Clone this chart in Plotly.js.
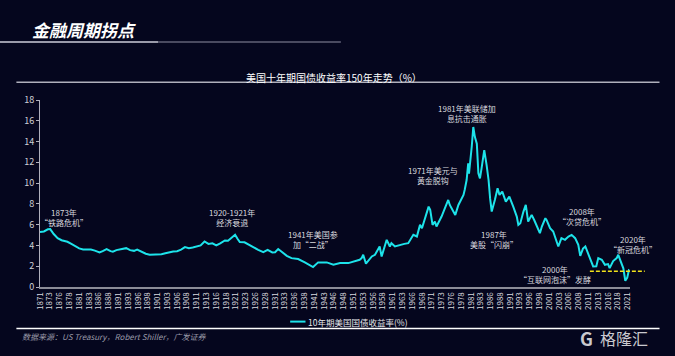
<!DOCTYPE html>
<html>
<head>
<meta charset="utf-8">
<script src="https://cdn.plot.ly/plotly-3.0.1.min.js"></script>
<style>
html,body{margin:0;padding:0;background:#05061e;}
#chart{width:675px;height:356px;}
</style>
</head>
<body>
<div id="chart"></div>
<script>
// ---- data ----
const years = [1871.0,1872.0,1873.0,1873.6,1874.5,1875.5,1876.5,1878.0,1879.0,1880.0,1881.0,1882.0,1883.0,1884.0,1885.0,1886.2,1887.0,1888.0,1889.0,1889.6,1890.5,1891.5,1893.0,1894.0,1895.0,1895.8,1897.0,1898.0,1899.0,1900.0,1901.0,1902.0,1903.0,1904.0,1905.0,1906.0,1907.0,1908.0,1909.0,1910.0,1911.3,1912.0,1913.0,1914.0,1915.0,1916.0,1917.0,1918.2,1919.0,1920.0,1920.8,1921.5,1922.0,1923.2,1924.6,1925.5,1926.7,1928.0,1929.1,1930.3,1931.0,1931.8,1933.1,1934.0,1935.2,1936.9,1938.6,1939.5,1940.7,1942.0,1944.2,1945.9,1947.6,1949.7,1951.4,1952.6,1953.1,1953.5,1954.2,1955.2,1955.7,1956.5,1957.3,1957.7,1958.2,1958.8,1959.5,1960.3,1960.7,1961.6,1962.9,1964.0,1965.0,1965.9,1966.3,1967.2,1968.0,1968.5,1969.3,1970.2,1970.6,1971.2,1971.8,1972.2,1973.5,1974.4,1975.2,1975.6,1976.5,1977.0,1977.8,1979.1,1979.4,1979.9,1980.3,1980.5,1981.2,1981.6,1982.0,1982.5,1982.9,1983.3,1983.7,1984.4,1985.0,1985.5,1985.9,1986.3,1987.1,1987.8,1988.3,1989.0,1989.9,1990.8,1991.8,1992.7,1993.1,1993.6,1994.4,1995.0,1995.6,1996.5,1997.2,1997.8,1998.6,1999.1,2000.0,2000.3,2001.2,2002.0,2002.8,2003.3,2004.1,2005.0,2005.9,2006.7,2007.6,2008.4,2008.9,2009.6,2010.2,2010.9,2011.6,2012.2,2013.0,2013.5,2014.4,2015.2,2016.0,2016.4,2017.3,2018.2,2018.6,2019.5,2019.9,2020.4,2020.9,2021.3,2021.5];
const yields = [5.3,5.35,5.55,5.57,5.1,4.7,4.5,4.35,4.15,3.95,3.72,3.62,3.63,3.6,3.5,3.32,3.45,3.65,3.45,3.4,3.55,3.6,3.74,3.55,3.48,3.6,3.35,3.2,3.1,3.1,3.1,3.15,3.25,3.35,3.42,3.45,3.6,3.84,3.74,3.8,3.96,4.0,4.38,4.15,4.2,4.0,4.2,4.48,4.45,4.8,5.02,4.6,4.32,4.3,4.0,3.8,3.58,3.36,3.58,3.33,3.35,3.65,3.26,3.0,2.78,2.69,2.37,2.2,1.92,2.37,2.37,2.14,2.3,2.3,2.52,2.62,2.78,3.1,2.24,2.78,2.94,3.1,3.7,3.9,2.94,3.6,4.54,3.9,4.22,3.9,4.06,4.15,4.22,4.7,5.02,4.86,5.98,5.66,6.62,7.74,7.42,5.98,6.3,5.82,6.78,7.74,8.38,7.9,7.26,6.94,7.9,8.86,9.34,10.3,11.9,10.9,13.5,15.4,14.45,13.8,10.94,10.46,11.4,13.18,11.74,10.3,8.5,7.26,8.38,9.5,8.86,9.18,8.22,8.7,7.74,6.78,5.98,6.14,7.26,7.9,6.3,6.94,6.4,5.82,5.18,5.82,6.62,6.46,5.66,5.34,4.38,3.9,4.7,4.54,4.86,5.02,4.7,4.06,3.0,3.7,3.9,3.26,2.62,1.98,2.0,2.78,2.62,2.14,2.2,1.82,2.5,2.78,3.1,2.3,1.8,0.6,0.9,1.6,1.55];
const xTickLabels = ['1871','1873','1876','1878','1881','1883','1886','1888','1891','1893','1896','1898','1901','1903','1906','1908','1911','1913','1916','1918','1921','1923','1926','1928','1931','1933','1936','1938','1941','1943','1946','1948','1951','1953','1956','1958','1961','1963','1966','1968','1971','1973','1976','1978','1981','1983','1986','1988','1991','1993','1996','1998','2001','2003','2006','2008','2011','2013','2016','2018','2021'];
const seriesName = '10年期美国国债收益率(%)';
const eventLabels = ['1873年<br>“铁路危机”','1920-1921年<br>经济衰退','1941年美国参<br>加“二战”','1971年美元与<br>黄金脱钩','1981年美联储加<br>息抗击通胀','1987年<br>美股“闪崩”','2000年<br>“互联网泡沫”发酵','2008年<br>“次贷危机”','2020年<br>“新冠危机”'];
const eventYears = [1877.1,1919.9,1940.7,1971.3,1980.0,1987.0,2002.4,2009.3,2022.4];
const eventValues = [6.73,6.7,4.62,10.73,16.73,4.54,1.18,6.75,4.11];
const thresholdValue = 1.52;

const FONT = '"Noto Sans CJK SC", "Noto Sans", sans-serif';
const X0 = 1871, X1 = 2021.6;
const tickvals = xTickLabels.map((_, i) => 1871 + 2.5 * i);

const trace = {
  x: years, y: yields, type: 'scatter', mode: 'lines', name: seriesName,
  line: {color: '#1de3ea', width: 2}, showlegend: false, hoverinfo: 'skip'
};

// annotations placed in paper-x so labels just outside the range are still drawn
const annotations = eventLabels.map((t, i) => ({
  x: (eventYears[i] - X0) / (X1 - X0), y: eventValues[i], xref: 'paper', yref: 'y', text: t,
  xanchor: 'center', yanchor: 'middle',
  showarrow: false, font: {family: FONT, size: 8, color: '#d8d8de'}, align: 'center'
}));

annotations.push(
  {xref: 'paper', yref: 'paper', x: -0.017, y: 1.375, xanchor: 'left', yanchor: 'middle',
   text: '金融周期拐点', showarrow: false,
   font: {family: FONT, size: 17, color: '#ffffff', weight: 'bold', style: 'italic'}},
  {xref: 'paper', yref: 'paper', x: 0.499, y: 1.12, xanchor: 'center', yanchor: 'middle',
   text: '美国十年期国债收益率150年走势（%）', showarrow: false,
   font: {family: FONT, size: 10, color: '#ffffff'}},
  {xref: 'paper', yref: 'paper', x: 0.451, y: -0.185, xanchor: 'left', yanchor: 'middle',
   text: seriesName, showarrow: false, font: {family: FONT, size: 8.5, color: '#e6e6ea'}},
  {xref: 'paper', yref: 'paper', x: -0.034, y: -0.267, xanchor: 'left', yanchor: 'middle',
   text: '数据来源：US Treasury，Robert Shiller，广发证券', showarrow: false,
   font: {family: FONT, size: 8, color: '#9a9aa8', style: 'italic'}},
  {xref: 'paper', yref: 'paper', x: 0.946, y: -0.275, xanchor: 'left', yanchor: 'middle',
   text: '格隆汇', showarrow: false, font: {family: FONT, size: 16, color: '#c9c9cf'}},
  {xref: 'paper', yref: 'paper', x: 0.941, y: -0.275, xanchor: 'right', yanchor: 'middle',
   text: 'G', showarrow: false, font: {family: FONT, size: 18, color: '#c9c9cf', weight: 'bold'}}
);

const shapes = [
  {type: 'line', xref: 'paper', yref: 'paper', x0: -0.068, x1: 0.2, y0: 1.31, y1: 1.31,
   line: {color: '#9a9aaa', width: 2}},
  {type: 'line', xref: 'paper', yref: 'paper', x0: 0.2, x1: 0.51, y0: 1.31, y1: 1.31,
   line: {color: '#4a4a60', width: 2}},
  {type: 'line', xref: 'paper', yref: 'paper', x0: -0.04, x1: 1.05, y0: 1.095, y1: 1.095,
   line: {color: '#b0b0bc', width: 1.5}},
  {type: 'line', xref: 'paper', yref: 'paper', x0: -0.04, x1: 1.05, y0: -0.222, y1: -0.222,
   line: {color: '#ffffff', width: 1.5}},
  {type: 'line', xref: 'paper', yref: 'paper', x0: 0.424, x1: 0.45, y0: -0.185, y1: -0.185,
   line: {color: '#1de3ea', width: 2}},
  {type: 'line', xref: 'paper', yref: 'paper', x0: 0.932, x1: 1.025,
   y0: thresholdValue / 18, y1: thresholdValue / 18,
   line: {color: '#f2e21a', width: 1.5, dash: '4px,2px'}}
];

const layout = {
  width: 675, height: 356,
  margin: {l: 40, r: 45, t: 100, b: 69, pad: 0},
  paper_bgcolor: '#05061e', plot_bgcolor: '#05061e',
  font: {family: FONT, color: '#d8d8de'},
  xaxis: {
    range: [X0, X1], tickmode: 'array', tickvals: tickvals, ticktext: xTickLabels,
    tickangle: -90, tickfont: {size: 8, color: '#d8d8de', family: FONT},
    showgrid: false, zeroline: false, showline: true, linecolor: '#8c8c98', linewidth: 2,
    ticks: '', fixedrange: true
  },
  yaxis: {
    range: [0, 18], dtick: 2, tickfont: {size: 9, color: '#d0d0d8', family: FONT},
    showgrid: false, zeroline: false, showline: true, linecolor: '#b0b0bc', linewidth: 1,
    ticks: 'outside', ticklen: 3, tickcolor: '#b0b0bc', fixedrange: true
  },
  annotations: annotations,
  shapes: shapes,
  showlegend: false
};

Plotly.newPlot('chart', [trace], layout, {displayModeBar: false, staticPlot: true});
</script>
</body>
</html>
